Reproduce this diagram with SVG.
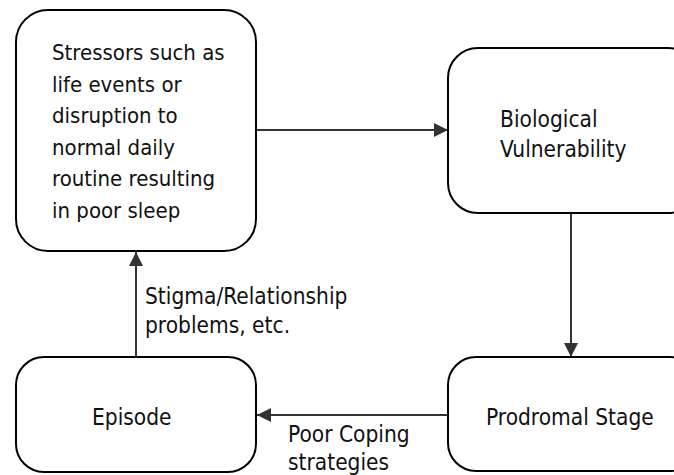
<svg xmlns="http://www.w3.org/2000/svg" width="674" height="475" viewBox="0 0 674 475">
<style>
.box{fill:#fff;stroke:#000;stroke-width:2}
.t{font-family:"DejaVu Sans Condensed","DejaVu Sans","Liberation Sans",sans-serif;font-stretch:condensed;font-size:22.5px;fill:#111}
.s{font-size:22px}
.c{stroke:#333;stroke-width:2;fill:none;marker-end:url(#ah)}
</style>
<defs>
<marker id="ah" markerUnits="userSpaceOnUse" markerWidth="14" markerHeight="14" refX="14" refY="7" orient="auto">
<path d="M0,0 L14,7 L0,14 z" fill="#333"/>
</marker>
</defs>
<rect width="674" height="475" fill="#fff"/>
<g id="connectors">
<line class="c" x1="256" y1="130" x2="448" y2="130"/>
<line class="c" x1="571" y1="213" x2="571" y2="357"/>
<line class="c" x1="448" y1="415" x2="257" y2="415"/>
<line class="c" x1="136" y1="357" x2="136" y2="252"/>
</g>
<g id="stressors">
<rect class="box" x="16" y="10" width="240" height="241" rx="32"/>
<text class="t s" x="52" y="60">Stressors such as</text>
<text class="t s" x="52" y="92">life events or</text>
<text class="t s" x="52" y="123">disruption to</text>
<text class="t s" x="52" y="155">normal daily</text>
<text class="t s" x="52" y="186">routine resulting</text>
<text class="t s" x="52" y="218">in poor sleep</text>
</g>
<g id="biological">
<rect class="box" x="448" y="48" width="250" height="165" rx="30"/>
<text class="t" x="500" y="127">Biological</text>
<text class="t" x="500" y="157">Vulnerability</text>
</g>
<g id="prodromal">
<rect class="box" x="448" y="357" width="250" height="114" rx="28"/>
<text class="t" x="486" y="425">Prodromal Stage</text>
</g>
<g id="episode">
<rect class="box" x="16" y="357" width="240" height="115" rx="28"/>
<text class="t" x="92" y="425">Episode</text>
</g>
<g id="labels">
<text class="t" x="145" y="304">Stigma/Relationship</text>
<text class="t" x="145" y="333">problems, etc.</text>
<text class="t" x="288" y="442">Poor Coping</text>
<text class="t" x="288" y="470">strategies</text>
</g>
</svg>
